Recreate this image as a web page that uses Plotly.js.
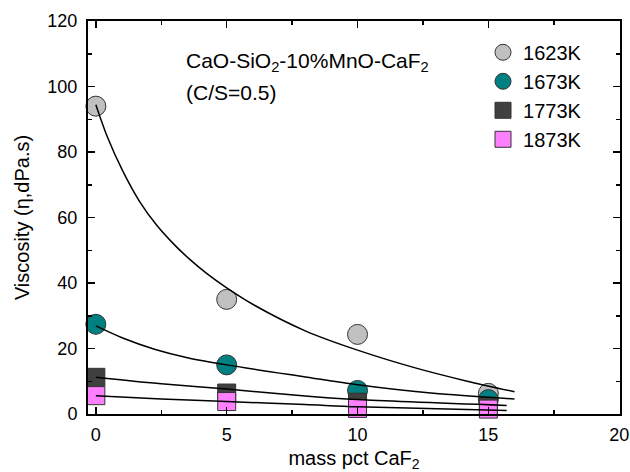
<!DOCTYPE html>
<html>
<head>
<meta charset="utf-8">
<script src="https://cdn.plot.ly/plotly-3.0.1.min.js"></script>
<style>html,body{margin:0;padding:0;background:#fff;}#plot{width:630px;height:472px;}</style>
</head>
<body>
<div id="plot"></div>
<script>
// measured data
var caf2 = [0, 5, 10, 15];
var visc1623 = [94.0, 35.0, 24.3, 6.3];
var visc1673 = [27.4, 15.0, 7.2, 4.4];
var visc1773 = [11.2, 6.4, 3.6, 2.3];
var visc1873 = [5.6, 3.8, 1.7, 1.5];
var seriesNames = ['1623K', '1673K', '1773K', '1873K'];
var xTicks = [0, 5, 10, 15, 20];
var xTickText = ['0', '5', '10', '15', '20'];

// fitted curves
var fit1623x = [0, 0.41, 1.04, 1.68, 2.32, 2.95, 3.59, 4.22, 5, 6.06, 8, 10, 12.24, 14.15, 16];
var fit1623y = [94.4, 85.2, 74.0, 64.8, 57.7, 52.1, 47.2, 43.0, 38.5, 33.2, 25.4, 19.5, 14.0, 10.1, 6.8];
var fit1673x = [0, 1, 2.24, 3.5, 5, 8, 10, 12.9, 16];
var fit1673y = [26.9, 23.3, 19.8, 17.2, 15.0, 11.3, 8.9, 6.3, 4.6];
var fit1773x = [0, 2.5, 5, 8, 10, 15.7];
var fit1773y = [11.2, 9.2, 7.6, 5.5, 4.4, 2.6];
var fit1873x = [0, 2.5, 5, 8, 10, 15.7];
var fit1873y = [5.6, 4.6, 3.8, 2.9, 2.2, 1.1];

var FONT = 'Liberation Sans, Arial, sans-serif';
var edge = {color: '#333333', width: 1};

function pts(y, name, symbol, color, size) {
  return {x: caf2, y: y, name: name, type: 'scatter', mode: 'markers', cliponaxis: false,
    marker: {symbol: symbol, color: color, size: size, line: edge}};
}
function fit(x, y) {
  return {x: x, y: y, type: 'scatter', mode: 'lines', showlegend: false, hoverinfo: 'skip',
    line: {color: '#000000', width: 1.5, shape: 'spline', smoothing: 0.8}};
}

var data = [
  pts(visc1623, seriesNames[0], 'circle', '#c0c0c0', 20),
  pts(visc1673, seriesNames[1], 'circle', '#008080', 20),
  pts(visc1773, seriesNames[2], 'square', '#404040', 18),
  pts(visc1873, seriesNames[3], 'square', '#ff80ff', 18),
  fit(fit1623x, fit1623y),
  fit(fit1673x, fit1673y),
  fit(fit1773x, fit1773y),
  fit(fit1873x, fit1873y)
];

var axisCommon = {
  showgrid: false, zeroline: false, showline: true, linecolor: '#000', linewidth: 2,
  mirror: 'ticks', ticks: 'inside', ticklen: 7, tickwidth: 1.5, tickcolor: '#000',
  tickfont: {family: FONT, size: 18, color: '#000'}
};

var layout = {
  width: 630, height: 472,
  margin: {l: 88, r: 10, t: 21, b: 58},
  paper_bgcolor: '#fff', plot_bgcolor: '#fff',
  font: {family: FONT, color: '#000'},
  xaxis: Object.assign({}, axisCommon, {
    range: [-0.3, 20.03], tickvals: xTicks, ticktext: xTickText, ticklabelstandoff: 3,
    minor: {dtick: 2.5, tick0: 0, ticks: 'inside', ticklen: 4, tickwidth: 1.5, tickcolor: '#000'},
    title: {text: 'mass pct CaF<sub>2</sub>', font: {family: FONT, size: 20, color: '#000'}, standoff: 8}
  }),
  yaxis: Object.assign({}, axisCommon, {
    range: [0, 120], dtick: 20, tick0: 0, ticklabelstandoff: 5,
    minor: {dtick: 10, tick0: 0, ticks: 'inside', ticklen: 4, tickwidth: 1.5, tickcolor: '#000'},
    title: {text: 'Viscosity (η,dPa.s)', font: {family: FONT, size: 20, color: '#000'}, standoff: 12}
  }),
  legend: {
    x: 0.7425, xanchor: 'left', y: 0.97, yanchor: 'top',
    bgcolor: 'rgba(0,0,0,0)', borderwidth: 0,
    font: {family: FONT, size: 20, color: '#000'},
    tracegroupgap: 0, itemsizing: 'trace'
  },
  annotations: [{
    xref: 'paper', yref: 'paper', x: 0.181, y: 0.8957, xanchor: 'left', yanchor: 'middle', align: 'left',
    showarrow: false,
    text: 'CaO-SiO<sub>2</sub>-10%MnO-CaF<sub>2</sub>',
    font: {family: FONT, size: 21, color: '#000'}
  }, {
    xref: 'paper', yref: 'paper', x: 0.181, y: 0.8193, xanchor: 'left', yanchor: 'middle', align: 'left',
    showarrow: false,
    text: '(C/S=0.5)',
    font: {family: FONT, size: 21, color: '#000'}
  }],
  showlegend: true
};

Plotly.newPlot('plot', data, layout, {displayModeBar: false, staticPlot: true});
</script>
</body>
</html>
